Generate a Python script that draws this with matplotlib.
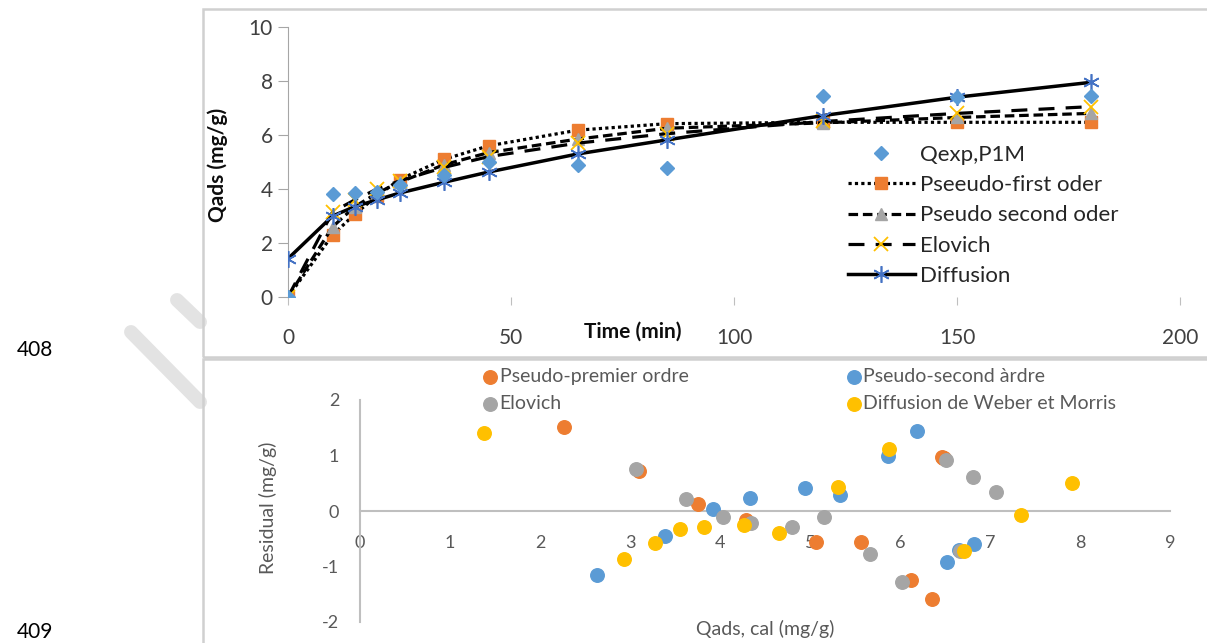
import matplotlib.pyplot as plt
from matplotlib.patches import Rectangle
from matplotlib.lines import Line2D

plt.rcParams['font.family'] = ['Lato', 'DejaVu Sans']
plt.rcParams['axes.unicode_minus'] = False

W, H = 1207, 643

# --- kinetic curves (top panel) ---
time_min = [0, 10, 15, 20, 25, 35, 45, 65, 85, 120, 150, 180]
q_exp = [0, 3.8, 3.85, 3.9, 4.15, 4.5, 5.0, 4.9, 4.78, 7.44, 7.4, 7.44]
q_pfo = [0, 2.3, 3.07, 3.75, 4.35, 5.1, 5.6, 6.18, 6.42, 6.47, 6.47, 6.47]
q_pso = [0, 2.6, 3.35, 3.85, 4.25, 4.9, 5.35, 5.85, 6.25, 6.45, 6.65, 6.8]
q_elov = [0, 3.15, 3.6, 4.0, 4.3, 4.8, 5.2, 5.7, 6.05, 6.5, 6.8, 7.05]
q_diff = [1.42, 3.0, 3.35, 3.6, 3.85, 4.25, 4.63, 5.3, 5.82, 6.72, 7.4, 7.95]

# --- residuals (bottom panel) ---
res_pfo_x = [2.27, 3.10, 3.76, 4.29, 5.07, 5.57, 6.12, 6.35, 6.47, 6.48, 6.49]
res_pfo_y = [1.52, 0.72, 0.13, -0.16, -0.55, -0.55, -1.24, -1.59, 0.97, 0.96, 0.95]
res_pso_x = [2.63, 3.39, 3.92, 4.33, 4.94, 5.33, 5.87, 6.19, 6.52, 6.65, 6.82]
res_pso_y = [-1.16, -0.45, 0.04, 0.23, 0.42, 0.29, 0.99, 1.45, -0.92, -0.70, -0.60]
res_elov_x = [3.07, 3.62, 4.03, 4.34, 4.80, 5.16, 5.67, 6.02, 6.51, 6.67, 6.81, 7.07]
res_elov_y = [0.75, 0.21, -0.11, -0.21, -0.28, -0.10, -0.78, -1.28, 0.92, -0.72, 0.62, 0.35]
res_diff_x = [1.38, 2.93, 3.28, 3.56, 3.82, 4.27, 4.66, 5.31, 5.88, 6.71, 7.34, 7.91]
res_diff_y = [1.40, -0.87, -0.57, -0.33, -0.28, -0.25, -0.39, 0.44, 1.12, -0.72, -0.08, 0.50]

orange, blue, gray, yellow = '#ED7D31', '#5B9BD5', '#A5A5A5', '#FFC000'

fig = plt.figure(figsize=(W / 100, H / 100), dpi=100)

# faint watermark strokes left of the charts
for (x0, y0), (x1, y1) in [((131, 332), (200, 402)), ((177, 300), (200, 322))]:
    fig.add_artist(Line2D([x0 / W, x1 / W], [1 - y0 / H, 1 - y1 / H], transform=fig.transFigure,
                          color='#E3E3E3', lw=10, solid_capstyle='round', zorder=0))

# chart area borders
fig.patches.append(Rectangle((203 / W, 1 - 357 / H), 1100 / W, 348 / H, transform=fig.transFigure,
                             fill=False, edgecolor='#D0D0D0', lw=1.8))
fig.patches.append(Rectangle((203 / W, -0.1), 1100 / W, 0.1 + (643 - 359) / H, transform=fig.transFigure,
                             fill=False, edgecolor='#D0D0D0', lw=1.8))

# line numbers of the manuscript
fig.text(35 / W, 1 - 350 / H, '408', fontsize=15, ha='center', va='center', color='black')
fig.text(35 / W, 1 - 632 / H, '409', fontsize=15, ha='center', va='center', color='black')

# ---------------- top panel ----------------
ax1 = fig.add_axes([288 / W, 1 - 297 / H, 892 / W, 270 / H])
ax1.plot(time_min, q_exp, ls='none', marker='D', ms=7, color=blue, label='Qexp,P1M', zorder=6)
ax1.plot(time_min, q_pfo, color='black', ls=(0, (1, 1)), lw=2.3, marker='s', ms=8,
         mfc=orange, mec=orange, label='Pseeudo-first oder', zorder=3)
ax1.plot(time_min, q_pso, color='black', ls=(0, (3, 1.5)), lw=2.3, marker='^', ms=8,
         mfc=gray, mec=gray, label='Pseudo second oder', zorder=3)
ax1.plot(time_min, q_elov, color='black', ls=(0, (5, 3.5)), lw=2.3, marker='x', ms=10, mew=1.3,
         mfc=yellow, mec=yellow, label='Elovich', zorder=3)
ax1.plot(time_min, q_diff, color='black', ls='-', lw=2.5, marker=(6, 2, 0), ms=12, mew=1.2,
         mec='#4472C4', label='Diffusion', zorder=4)

ax1.set_xlim(0, 200)
ax1.set_ylim(0, 10)
ax1.set_xticks(range(0, 201, 50))
ax1.set_yticks(range(0, 11, 2))
for s in ['top', 'right', 'bottom']:
    ax1.spines[s].set_visible(False)
ax1.spines['left'].set_color('#A6A6A6')
ax1.tick_params(axis='y', length=7, color='#A6A6A6', labelsize=15, labelcolor='#404040', pad=4)
ax1.tick_params(axis='x', length=6, color='#BFBFBF', labelsize=15, labelcolor='#404040', pad=16)
ax1.text(0.386, -0.13, 'Time (min)', transform=ax1.transAxes, ha='center', va='center',
         fontsize=15, fontweight='bold', color='#0D0D0D')
ax1.text(-0.079, 0.489, 'Qads (mg/g)', transform=ax1.transAxes, ha='center', va='center',
         rotation=90, fontsize=15, fontweight='bold', color='#0D0D0D')
leg1 = ax1.legend(loc='upper left', bbox_to_anchor=(848 / W, 1 - 145 / H), bbox_transform=fig.transFigure,
                  frameon=False, fontsize=16, handlelength=3.0, handletextpad=0.25, labelspacing=0.46,
                  borderpad=0, borderaxespad=0)
for t in leg1.get_texts():
    t.set_color('#262626')

# ---------------- bottom panel ----------------
ax2 = fig.add_axes([360 / W, 1 - 622 / H, 810 / W, 222 / H])
ax2.scatter(res_pfo_x, res_pfo_y, s=95, color=orange, label='Pseudo-premier ordre', clip_on=False, zorder=3)
ax2.scatter(res_pso_x, res_pso_y, s=95, color=blue, label='Pseudo-second àrdre', clip_on=False, zorder=3)
ax2.scatter(res_elov_x, res_elov_y, s=95, color=gray, label='Elovich', clip_on=False, zorder=3)
ax2.scatter(res_diff_x, res_diff_y, s=95, color=yellow, label='Diffusion de Weber et Morris',
            clip_on=False, zorder=3)

ax2.set_xlim(0, 9)
ax2.set_ylim(-2, 2)
ax2.set_xticks(range(0, 10))
ax2.set_yticks(range(-2, 3))
for s in ['top', 'right']:
    ax2.spines[s].set_visible(False)
ax2.spines['bottom'].set_position(('data', 0))
for s in ['left', 'bottom']:
    ax2.spines[s].set_color('#BFBFBF')
    ax2.spines[s].set_linewidth(1.5)
ax2.tick_params(axis='x', length=0, labelsize=13, labelcolor='#595959', pad=17)
ax2.tick_params(axis='y', length=0, labelsize=13, labelcolor='#595959', pad=15)
ax2.text(-0.114, 0.514, 'Residual (mg/g)', transform=ax2.transAxes, ha='center', va='center',
         rotation=90, fontsize=14, color='#595959')
ax2.text(0.5, -0.03, 'Qads, cal (mg/g)', transform=ax2.transAxes, ha='center', va='center',
         fontsize=14, color='#595959')

h, l = ax2.get_legend_handles_labels()
order = [0, 2, 1, 3]
leg2 = ax2.legend([h[i] for i in order], [l[i] for i in order], ncol=2, loc='upper left',
                  bbox_to_anchor=(484 / W, 1 - 368 / H), bbox_transform=fig.transFigure,
                  frameon=False, fontsize=14, handlelength=0.6, handletextpad=0.2,
                  labelspacing=0.5, columnspacing=8.2, borderpad=0, borderaxespad=0,
                  scatterpoints=1)
for t in leg2.get_texts():
    t.set_color('#595959')

fig.savefig('out.png', dpi=100)
